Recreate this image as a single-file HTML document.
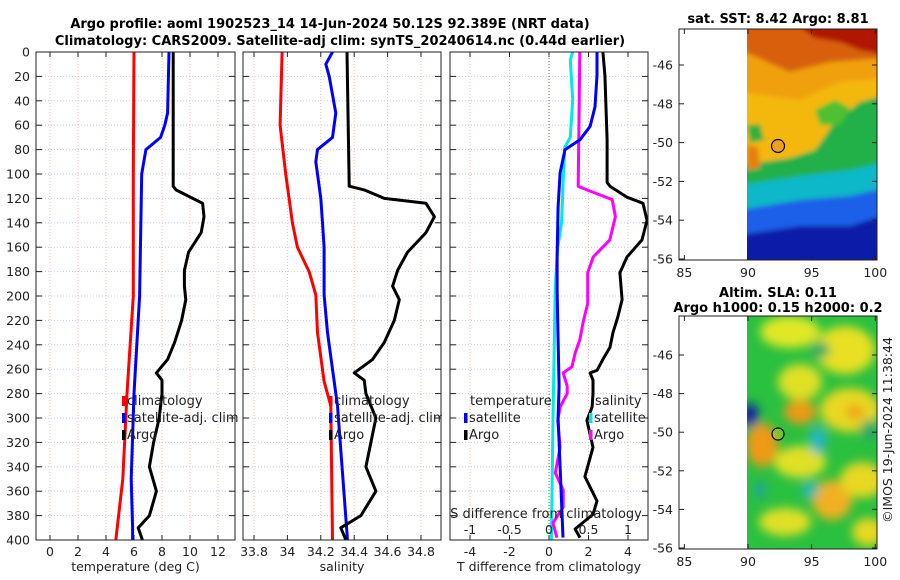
<!DOCTYPE html>
<html><head><meta charset="utf-8">
<style>
html,body{margin:0;padding:0;background:#fff;}
svg{display:block;font-family:"DejaVu Sans","Liberation Sans",sans-serif;}
</style></head>
<body>
<svg id="fig" width="900" height="580" viewBox="0 0 900 580" xmlns="http://www.w3.org/2000/svg">
<defs>
<filter id="blur3"><feGaussianBlur stdDeviation="2.5"/></filter>
<filter id="blur6"><feGaussianBlur stdDeviation="5"/></filter>
<clipPath id="clipTop"><rect x="747" y="29" width="130" height="231"/></clipPath>
<clipPath id="clipBot"><rect x="747" y="316" width="130" height="233"/></clipPath>
<clipPath id="clipP1"><rect x="36" y="52" width="199" height="488"/></clipPath>
<clipPath id="clipP2"><rect x="243" y="52" width="198" height="488"/></clipPath>
<clipPath id="clipP3"><rect x="450" y="52" width="198" height="488"/></clipPath>
</defs>
<text x="330" y="28" text-anchor="middle" font-weight="bold" font-size="13">Argo profile: aoml 1902523_14 14-Jun-2024 50.12S 92.389E (NRT data)</text>
<text x="340" y="45" text-anchor="middle" font-weight="bold" font-size="13">Climatology: CARS2009. Satellite-adj clim: synTS_20240614.nc (0.44d earlier)</text>

<g id="p1"></g>
<g id="p2"></g>
<g id="p3"></g>

<!-- top map -->
<g>
<text x="778" y="23" text-anchor="middle" font-weight="bold" font-size="13">sat. SST: 8.42 Argo: 8.81</text>
<rect x="679" y="29" width="198" height="231" fill="#fff"/>
<g clip-path="url(#clipTop)">
<g filter="url(#blur3)">
<rect x="740" y="20" width="145" height="250" fill="#d86010"/>
<polygon points="790,20 885,20 885,55 860,50 840,42 815,38" fill="#b01800"/>
<polygon points="740,50 790,72 830,62 885,58 885,270 740,270" fill="#f0a010"/>
<polygon points="740,92 800,100 840,82 885,78 885,270 740,270" fill="#f4b808"/>
<polygon points="740,165 790,158 815,150 835,122 860,102 885,95 885,270 740,270" fill="#20b048"/>
<polygon points="740,185 800,176 850,170 885,162 885,270 740,270" fill="#10b8c8"/>
<polygon points="740,210 800,200 850,196 885,188 885,270 740,270" fill="#1e5ee8"/>
<polygon points="740,235 800,226 850,226 885,215 885,270 740,270" fill="#0a1ea8"/>
<polygon points="815,110 835,100 850,108 840,125 820,125" fill="#50c030"/>
<polygon points="747,125 760,124 764,140 750,143" fill="#30b040"/>
<polygon points="747,145 758,147 760,168 747,170" fill="#e58010"/>
</g>
</g>
<rect x="679" y="29" width="198" height="231" fill="none" stroke="#222" stroke-width="1"/>
<circle cx="778" cy="146" r="6.5" fill="#f0a020" stroke="#000" stroke-width="1.2"/>
<g id="mapTopAxes"></g>
</g>

<!-- bottom map -->
<g>
<text x="778" y="297" text-anchor="middle" font-weight="bold" font-size="13">Altim. SLA: 0.11</text>
<text x="778" y="312" text-anchor="middle" font-weight="bold" font-size="13">Argo h1000: 0.15 h2000: 0.2</text>
<rect x="679" y="316" width="198" height="233" fill="#fff"/>
<g clip-path="url(#clipBot)">
<rect x="740" y="310" width="145" height="245" fill="#2ac040"/>
<g filter="url(#blur6)">
<ellipse cx="790" cy="332" rx="30" ry="16" fill="#e0e828"/>
<ellipse cx="845" cy="350" rx="30" ry="24" fill="#e8e020"/>
<ellipse cx="800" cy="382" rx="22" ry="18" fill="#e0e028"/>
<ellipse cx="800" cy="412" rx="16" ry="12" fill="#ee9a18"/>
<ellipse cx="850" cy="410" rx="30" ry="22" fill="#e8d820"/>
<ellipse cx="855" cy="412" rx="9" ry="7" fill="#f0a018"/>
<ellipse cx="762" cy="445" rx="16" ry="22" fill="#ee9a18"/>
<ellipse cx="800" cy="462" rx="26" ry="16" fill="#e0e028"/>
<ellipse cx="832" cy="500" rx="20" ry="20" fill="#f0b020"/>
<ellipse cx="862" cy="480" rx="22" ry="18" fill="#e8d820"/>
<ellipse cx="785" cy="522" rx="26" ry="14" fill="#e0e028"/>
<ellipse cx="868" cy="532" rx="16" ry="14" fill="#e8d820"/>
<ellipse cx="750" cy="415" rx="8" ry="12" fill="#0a1ea8"/>
<ellipse cx="818" cy="440" rx="8" ry="14" fill="#20b8c8"/>
<ellipse cx="810" cy="490" rx="9" ry="8" fill="#20b8b0"/>
<ellipse cx="870" cy="430" rx="10" ry="10" fill="#20a868"/>
<ellipse cx="820" cy="350" rx="10" ry="8" fill="#20a868"/>
<ellipse cx="760" cy="490" rx="7" ry="9" fill="#20a890"/>
</g>
</g>
<rect x="679" y="316" width="198" height="233" fill="none" stroke="#222" stroke-width="1"/>
<circle cx="778" cy="434" r="6" fill="#d8e020" fill-opacity="0.3" stroke="#000" stroke-width="1.2"/>
<g id="mapBotAxes"></g>
</g>
<text transform="translate(892,430) rotate(-90)" text-anchor="middle" font-size="12.5" fill="#222">©IMOS 19-Jun-2024 11:38:44</text>
</svg>
<script>
// ---- data (depth in m) ----
const depthTicks = [0,20,40,60,80,100,120,140,160,180,200,220,240,260,280,300,320,340,360,380,400];
const tTicks = [0,2,4,6,8,10,12];
const sTicks = [33.8,34,34.2,34.4,34.6,34.8];
const sTickLabels = ["33.8","34","34.2","34.4","34.6","34.8"];
const dTicks = [-4,-2,0,2,4];
const dsTicks = [-1,-0.5,0,0.5,1];
const dsTickLabels = ["-1","-0.5","0","0.5","1"];

const climTDepth = [0,100,200,280,350,400];
const climT      = [6.0,5.95,5.95,5.5,5.2,4.7];
const satTDepth  = [0,50,60,70,80,100,200,280,350,390,400];
const satT       = [8.5,8.4,8.2,7.9,6.85,6.55,6.4,6.0,5.8,5.9,5.9];
const argoTDepth = [0,110,113,120,124,135,148,164,179,192,203,220,238,252,263,269,280,300,320,340,360,380,390,400];
const argoT      = [8.8,8.8,9.0,10.2,10.9,11.0,10.8,9.9,9.6,9.6,9.7,9.4,8.9,8.4,7.6,8.0,8.0,7.8,7.4,7.1,7.6,7.1,6.3,6.6];

const climSDepth = [0,60,100,120,140,160,180,199,230,270,290,400];
const climS      = [33.968,33.956,33.99,34.01,34.03,34.06,34.13,34.17,34.18,34.22,34.26,34.27];
const satSDepth  = [0,10,20,50,70,80,90,100,120,140,160,199,230,260,290,400];
const satS       = [34.27,34.23,34.25,34.29,34.27,34.18,34.17,34.18,34.2,34.21,34.22,34.22,34.24,34.27,34.30,34.36];
const argoSDepth = [0,110,113,120,124,135,148,164,179,192,203,220,238,252,263,269,280,300,320,340,360,380,390,400];
const argoS      = [34.357,34.37,34.46,34.58,34.83,34.88,34.83,34.72,34.66,34.63,34.67,34.64,34.58,34.51,34.40,34.46,34.47,34.53,34.50,34.47,34.53,34.44,34.32,34.35];

const satDTDepth = [0,19,45,61,72,80,99,127,168,195,236,274,300,398];
const satDT      = [2.43,2.43,2.33,2.08,1.57,0.81,0.56,0.46,0.41,0.41,0.46,0.51,0.46,0.71];
const argoDTDepth = [0,19,72,107,110,119,124,138,154,168,181,203,217,230,242,252,261,263,269,280,291,302,324,348,368,379,391,398];
const argoDT      = [2.73,2.83,2.94,2.94,3.09,3.95,4.76,4.96,4.71,3.95,3.59,3.7,3.49,3.24,3.09,2.73,2.43,2.08,2.23,2.23,2.18,1.92,2.23,1.82,2.43,2.23,1.32,1.57];
const satDSDepth = [0,6.5,39,70,78,105,140,160,192,300,400];
const satDS      = [0.30,0.27,0.30,0.27,0.20,0.18,0.16,0.11,0.08,0.05,0.03];
const argoDSDepth = [0,110,113,121,135,154,168,181,206,222,236,247,258,263,274,280,291,302,324,345,359,373,386,398];
const argoDS      = [0.39,0.37,0.48,0.80,0.84,0.77,0.56,0.49,0.49,0.43,0.39,0.33,0.29,0.18,0.23,0.23,0.14,0.11,0.14,0.08,0.18,0.18,0.05,0.10];

const mapXTicks = [85,90,95,100];
const mapYTicks = [-46,-48,-50,-52,-54,-56];

// ---- scales ----
const NS = "http://www.w3.org/2000/svg";
const yD = d => 52 + d*1.22;
const xT = t => 50 + 14*t;
const xS = s => 254 + (s-33.8)*167;
const xD = t => 549 + t*19.75;
const xDS = s => 549 + s*79;
const mapX = lon => 748 + (lon-90)*12.73;
const mapYTop = lat => 65 + (-46-lat)*19.4;
const mapYBot = lat => 355 + (-46-lat)*19.3;

function mk(tag, attrs, parent){
  const e = document.createElementNS(NS, tag);
  for (const k in attrs) e.setAttribute(k, attrs[k]);
  parent.appendChild(e); return e;
}
function txt(parent, x, y, s, anchor, size){
  const t = mk('text', {x:x, y:y, 'text-anchor':anchor||'middle', 'font-size':size||12.5, fill:'#222'}, parent);
  t.textContent = s; return t;
}
function line(parent, xs, ds, xf, color, name, clip){
  let d = '';
  for (let i=0;i<xs.length;i++) d += (i?'L':'M') + xf(xs[i]).toFixed(1) + ',' + yD(ds[i]).toFixed(1);
  const p = mk('path', {d:d, fill:'none', stroke:color, 'stroke-width':3, 'stroke-linejoin':'round', 'clip-path':'url(#'+clip+')'}, parent);
  
  
  return p;
}
function panel(g, x0, x1, ticks, labels, xf, xlabel, showY){
  mk('rect', {x:x0, y:52, width:x1-x0, height:488, fill:'#fff'}, g);
  depthTicks.forEach(d=>{
    mk('line', {x1:x0, x2:x1, y1:yD(d), y2:yD(d), stroke:'#c4cbee', 'stroke-width':1, 'stroke-dasharray':'1,2'}, g);
    mk('line', {x1:x0, x2:x0+6, y1:yD(d), y2:yD(d), stroke:'#222'}, g);
    mk('line', {x1:x1-6, x2:x1, y1:yD(d), y2:yD(d), stroke:'#222'}, g);
    if (showY) { const t = txt(g, 30, yD(d)+4.5, String(d), 'end');
      
       }
  });
  ticks.forEach((v,i)=>{
    mk('line', {x1:xf(v), x2:xf(v), y1:52, y2:540, stroke:'#e8c4b0', 'stroke-width':1, 'stroke-dasharray':'1,2'}, g);
    mk('line', {x1:xf(v), x2:xf(v), y1:540, y2:535, stroke:'#222'}, g);
    mk('line', {x1:xf(v), x2:xf(v), y1:52, y2:57, stroke:'#222'}, g);
    const t = txt(g, xf(v), 556, labels[i]);
    
    
  });
  const xl = txt(g, (x0+x1)/2, 571, xlabel);
  
  
}
function legendEntry(g, x, y, color, label){
  mk('rect', {x:x, y:y-9, width:3.5, height:10, fill:color}, g);
  const t = txt(g, x+5, y, label, 'start', 13);
  
  
}

// panel 1
const p1 = document.getElementById('p1');
panel(p1, 36, 235, tTicks, tTicks.map(String), xT, 'temperature (deg C)', true);
line(p1, climT, climTDepth, xT, '#ff0000', 'climatology-temperature-line', 'clipP1');
line(p1, satT, satTDepth, xT, '#0000ff', 'satellite-temperature-line', 'clipP1');
line(p1, argoT, argoTDepth, xT, '#000000', 'argo-temperature-line', 'clipP1');
mk('rect', {x:36, y:52, width:199, height:488, fill:'none', stroke:'#222'}, p1);
legendEntry(p1, 122, 405, '#ff0000', 'climatology');
legendEntry(p1, 122, 422, '#0000ff', 'satellite-adj. clim');
legendEntry(p1, 122, 439, '#000000', 'Argo');

// panel 2
const p2 = document.getElementById('p2');
panel(p2, 243, 441, sTicks, sTickLabels, xS, 'salinity', false);
line(p2, climS, climSDepth, xS, '#ff0000', 'climatology-salinity-line', 'clipP2');
line(p2, satS, satSDepth, xS, '#0000ff', 'satellite-salinity-line', 'clipP2');
line(p2, argoS, argoSDepth, xS, '#000000', 'argo-salinity-line', 'clipP2');
mk('rect', {x:243, y:52, width:198, height:488, fill:'none', stroke:'#222'}, p2);
legendEntry(p2, 329, 405, '#ff0000', 'climatology');
legendEntry(p2, 329, 422, '#0000ff', 'satellite-adj. clim');
legendEntry(p2, 329, 439, '#000000', 'Argo');

// panel 3
const p3 = document.getElementById('p3');
mk('rect', {x:442, y:52, width:8, height:490, fill:'#fff'}, p3);
panel(p3, 450, 648, dTicks, dTicks.map(String), xD, 'T difference from climatology', false);
mk('line', {x1:xD(0), x2:xD(0), y1:52, y2:540, stroke:'#556b3a', 'stroke-width':1, 'stroke-dasharray':'1,2'}, p3);
line(p3, satDS, satDSDepth, xDS, '#00e8e8', 'satellite-salinity-diff-line', 'clipP3');
line(p3, argoDS, argoDSDepth, xDS, '#ff00ff', 'argo-salinity-diff-line', 'clipP3');
line(p3, satDT, satDTDepth, xD, '#0000ff', 'satellite-temperature-diff-line', 'clipP3');
line(p3, argoDT, argoDTDepth, xD, '#000000', 'argo-temperature-diff-line', 'clipP3');
mk('rect', {x:450, y:52, width:198, height:488, fill:'none', stroke:'#222'}, p3);
const lt = txt(p3, 470, 405, 'temperature', 'start', 13);


legendEntry(p3, 464, 422, '#0000ff', 'satellite');
legendEntry(p3, 464, 439, '#000000', 'Argo');
const ls = txt(p3, 595, 405, 'salinity', 'start', 13);


legendEntry(p3, 589, 422, '#00e8e8', 'satellite');
legendEntry(p3, 589, 439, '#ff00ff', 'Argo');
const st = txt(p3, 546, 518, 'S difference from climatology', 'middle', 13);


dsTicks.forEach((v,i)=>{
  const t = txt(p3, xDS(v), 534, dsTickLabels[i], 'middle', 12.5);
  
  
  mk('line', {x1:xDS(v), x2:xDS(v), y1:535, y2:540, stroke:'#222'}, p3);
});

// map axes
function mapAxes(gid, yf, y0, y1){
  const g = document.getElementById(gid);
  mapYTicks.forEach(v=>{
    const y = yf(v);
    mk('line', {x1:679, x2:684, y1:y, y2:y, stroke:'#222'}, g);
    mk('line', {x1:872, x2:877, y1:y, y2:y, stroke:'#222'}, g);
    const t = txt(g, 673, y+4.5, String(v), 'end');
    
    
  });
  mapXTicks.forEach(v=>{
    const x = mapX(v);
    mk('line', {x1:x, x2:x, y1:y1, y2:y1-5, stroke:'#222'}, g);
    mk('line', {x1:x, x2:x, y1:y0, y2:y0+5, stroke:'#222'}, g);
    const t = txt(g, x, y1+17, String(v));
    
    
  });
}
mapAxes('mapTopAxes', mapYTop, 29, 260);
mapAxes('mapBotAxes', mapYBot, 316, 549);
</script>
</body></html>
